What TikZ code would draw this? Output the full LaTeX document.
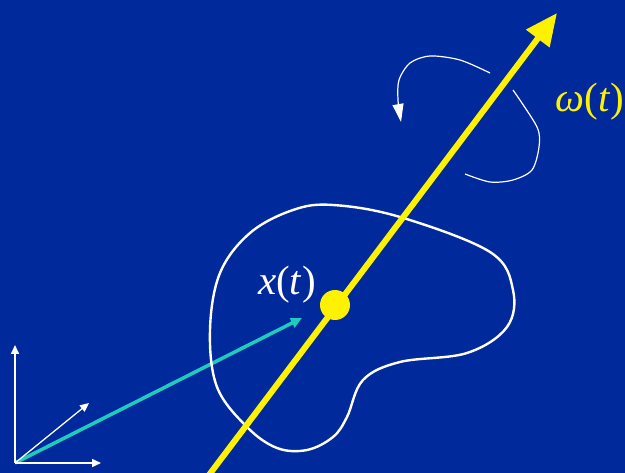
\documentclass[tikz,border=0pt]{standalone}
\usepackage{fontspec}
\setmainfont{Liberation Serif}
\usetikzlibrary{arrows.meta}
\definecolor{slide}{HTML}{00299B}
\definecolor{axis}{HTML}{FFF200}
\definecolor{teal}{HTML}{1FCBBE}
\tikzset{
  frame/.style={draw=white, line width=1.6pt, -{Triangle[length=9pt,width=8pt]}},
  spin/.style={draw=white, line width=1.2pt},
  body/.style={draw=white, line width=2.4pt},
  posvec/.style={draw=teal, line width=3.5pt, -{Triangle[length=11pt,width=10pt]}},
  symb/.style={font=\fontsize{41}{43}\selectfont, inner sep=0pt}
}
\begin{document}
\begin{tikzpicture}[x=1pt,y=-1pt]
  \fill[slide] (0,0) rectangle (625,473);
  \useasboundingbox (0,0) rectangle (625,473);
  \clip (0,0) rectangle (625,473);
  % reference frame
  \coordinate (O) at (15,463);
  \coordinate (ex) at (101,463);
  \coordinate (ey) at (15,345);
  \coordinate (ez) at (89,403);
  \coordinate (xt) at (302,318);
  \draw[posvec] (O) -- (xt);
  \draw[frame] (O) -- (ex);
  \draw[frame] (O) -- (ey);
  \draw[frame, line width=1.3pt] (O) -- (ez);
  % rigid body
  \draw[body] plot[smooth cycle, tension=0.6] coordinates {
    (333,205) (400,217) (490,252) (513,290) (507,327) (467,353)
    (400,362) (363,380) (347,417) (333,437) (307,450) (277,448)
    (247,427) (217,387) (210,330) (220,273) (250,233) (293,210)};
  % rotation
  \draw[spin, -{Triangle[length=18pt,width=11pt]}] plot[smooth] coordinates {
    (490,73) (460,60) (430,56) (410,63) (399,80) (398,100) (401,122)};
  \draw[spin] plot[smooth] coordinates {
    (513,90) (537,127) (539,147) (532,170) (513,180) (490,182) (465,174)};
  % angular velocity axis
  \coordinate (base) at (209,475);
  \coordinate (tip) at (557,13);
  \draw[axis, line width=6pt, -{Triangle[length=32pt,width=28pt]}] (base) -- (tip);
  \node[circle, fill=axis, minimum size=30pt, inner sep=0pt] (com) at (335,305) {};
  \node[symb, text=white] (xlab) at (287,285) {\textit{x}(\textit{t})};
  \node[symb, text=axis] (wlab) at (590,102) {\textit{ω}(\textit{t})};
\end{tikzpicture}
\end{document}
